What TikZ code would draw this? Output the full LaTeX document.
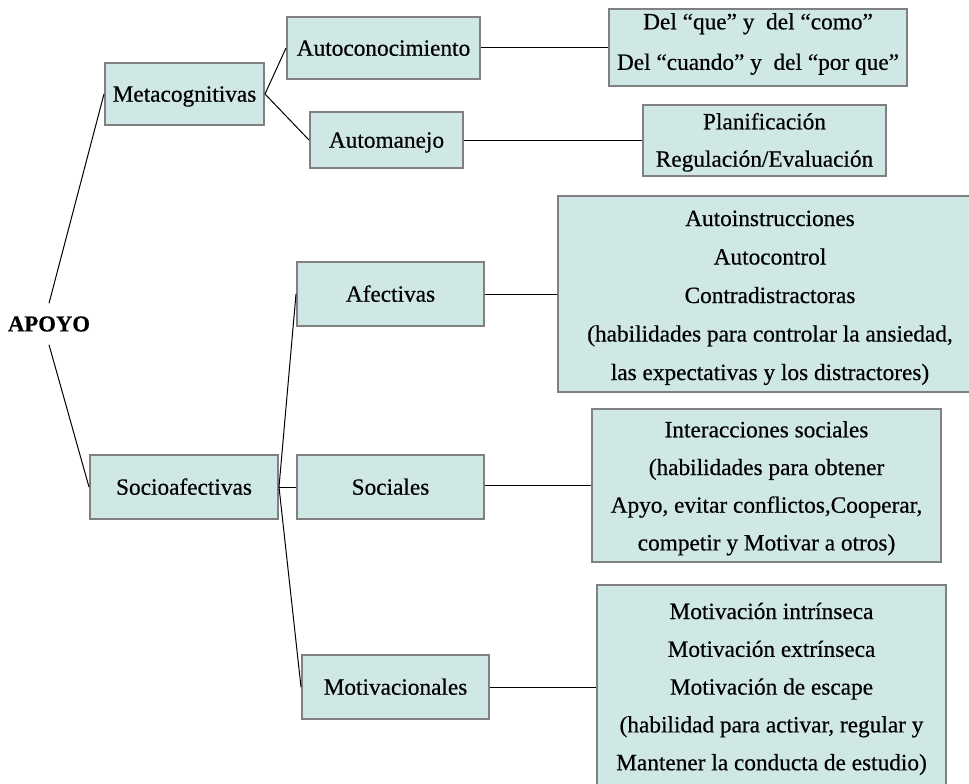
\documentclass[tikz,border=0pt]{standalone}
\usepackage{fontspec}
\setmainfont{Liberation Serif}[FakeBold=0.5]
\definecolor{boxfill}{RGB}{207,231,229}
\definecolor{boxline}{RGB}{128,128,128}
\begin{document}
\begin{tikzpicture}[x=1pt,y=-1pt,
  box/.style={draw=boxline, line width=2pt, fill=boxfill, inner sep=0pt,
    align=center, font=\fontsize{23.3}{38.5}\selectfont,
    text height=15.4pt, text depth=0pt},
  link/.style={draw=black, line width=1pt}]
\useasboundingbox (0,0) rectangle (969,784);

% root label
\node[font=\bfseries\fontsize{22.7}{26}\selectfont, minimum height=41pt, inner sep=0pt]
  (apoyo) at (49,324) {APOYO};

% first level
\node[box, minimum width=159pt, minimum height=62pt] (meta)  at (184.5,94)  {Metacognitivas};
\node[box, minimum width=188pt, minimum height=64pt] (socio) at (184,487)   {Socioafectivas};

% second level
\node[box, minimum width=193pt, minimum height=62pt] (autocon) at (383.5,48)  {Autoconocimiento};
\node[box, minimum width=153pt, minimum height=56pt] (automan) at (386.5,140) {Automanejo};
\node[box, minimum width=187pt, minimum height=64pt] (afect)   at (390.5,294) {Afectivas};
\node[box, minimum width=187pt, minimum height=64pt] (social)  at (390.5,487) {Sociales};
\node[box, minimum width=187pt, minimum height=64pt] (motiv)   at (395.5,687) {Motivacionales};

% detail boxes; text height places the last baseline (the last two run past the page edge)
\node[box, minimum width=298pt, minimum height=77pt, text height=44.6pt,
  font=\fontsize{23.3}{40.5}\selectfont] (del) at (758,47.5)
  {Del “que” y~~del “como”\\Del “cuando” y~~del “por que”};
\node[box, minimum width=243pt, minimum height=71pt, text height=52.4pt,
  font=\fontsize{23.3}{37.4}\selectfont] (plan) at (764.5,140.5)
  {Planificación\\Regulación/Evaluación};
\node[box, minimum width=424pt, minimum height=196pt, text height=172pt] (afectdet) at (770,294)
  {Autoinstrucciones\\Autocontrol\\Contradistractoras\\(habilidades para controlar la ansiedad,\\las expectativas y los distractores)};
\node[box, minimum width=349pt, minimum height=153pt, text height=129.8pt,
  font=\fontsize{23.3}{37.7}\selectfont] (socdet) at (766.5,485.5)
  {Interacciones sociales\\(habilidades para obtener\\Apyo, evitar conflictos,Cooperar,\\competir y Motivar a otros)};
\node[box, minimum width=349pt, minimum height=204pt, text height=166.4pt,
  font=\fontsize{23.3}{37.8}\selectfont] (motdet) at (771.5,687)
  {Motivación intrínseca\\Motivación extrínseca\\Motivación de escape\\(habilidad para activar, regular y\\Mantener la conducta de estudio)};

% connectors
\draw[link] (apoyo.north) -- (meta.west);
\draw[link] (apoyo.south) -- (socio.west);
\draw[link] (meta.east) -- (autocon.west);
\draw[link] (meta.east) -- (automan.west);
\draw[link] (autocon.east) -- (autocon.east -| del.west);
\draw[link] (automan.east) -- (automan.east -| plan.west);
\draw[link] (socio.east) -- (afect.west);
\draw[link] (socio.east) -- (social.west);
\draw[link] (socio.east) -- (motiv.west);
\draw[link] (afect.east) -- (afect.east -| afectdet.west);
\draw[link] (social.east) ++(0,-2) coordinate (sx) -- (sx -| socdet.west);
\draw[link] (motiv.east) -- (motiv.east -| motdet.west);
\end{tikzpicture}
\end{document}
